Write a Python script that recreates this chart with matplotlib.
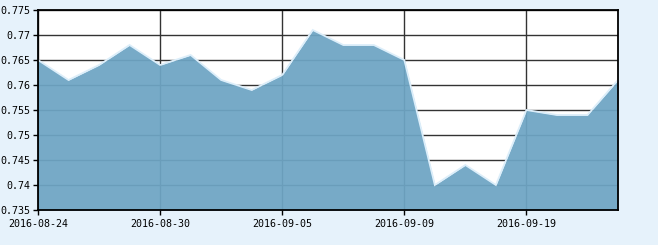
import matplotlib
matplotlib.use("Agg")
import matplotlib.pyplot as plt
import numpy as np

dates = ["2016-08-24", "2016-08-25", "2016-08-26", "2016-08-29", "2016-08-30",
         "2016-08-31", "2016-09-01", "2016-09-02", "2016-09-05", "2016-09-06",
         "2016-09-07", "2016-09-08", "2016-09-09", "2016-09-12", "2016-09-13",
         "2016-09-14", "2016-09-19", "2016-09-20", "2016-09-21", "2016-09-22"]
values = [0.765, 0.761, 0.764, 0.768, 0.764, 0.766, 0.761, 0.759, 0.762, 0.771,
          0.768, 0.768, 0.765, 0.740, 0.744, 0.740, 0.755, 0.754, 0.754, 0.761]
y_ticks = [0.735, 0.74, 0.745, 0.75, 0.755, 0.76, 0.765, 0.77, 0.775]
y_min, y_max = 0.735, 0.775

bg = "#E6F2FB"
fill_c = "#76AAC7"

fig = plt.figure(figsize=(6.58, 2.45), dpi=100, facecolor=bg)
ax = fig.add_axes([38/658, 1-210/245, 580/658, 200/245])
ax.set_facecolor("white")

x = np.arange(len(values))
ax.fill_between(x, values, y_min, color="#6EA5C4", alpha=0.94, lw=0, zorder=3)
ax.plot(x, values, color="#DCEEFA", lw=1.3, zorder=4, solid_joinstyle="miter")

ax.set_xlim(0, len(values) - 1)
ax.set_ylim(y_min, y_max)
ax.set_yticks(y_ticks)
ax.set_yticklabels([("%g" % v) for v in y_ticks])
tick_idx = list(range(0, len(dates), 4))
ax.set_xticks(tick_idx)
ax.set_xticklabels([dates[i] for i in tick_idx])

ax.grid(True, color="#333333", lw=1.0, zorder=1)
ax.set_axisbelow(True)
for s in ax.spines.values():
    s.set_color("black")
    s.set_linewidth(1.3)
    s.set_zorder(5)

ax.tick_params(axis="both", direction="out", length=3.5, width=1, color="black",
               labelsize=7.2, pad=2, labelcolor="black")
ax.tick_params(axis="x", pad=3)
for lbl in ax.get_xticklabels() + ax.get_yticklabels():
    lbl.set_fontfamily("DejaVu Sans Mono")

fig.savefig("out.png", dpi=100, facecolor=bg)
